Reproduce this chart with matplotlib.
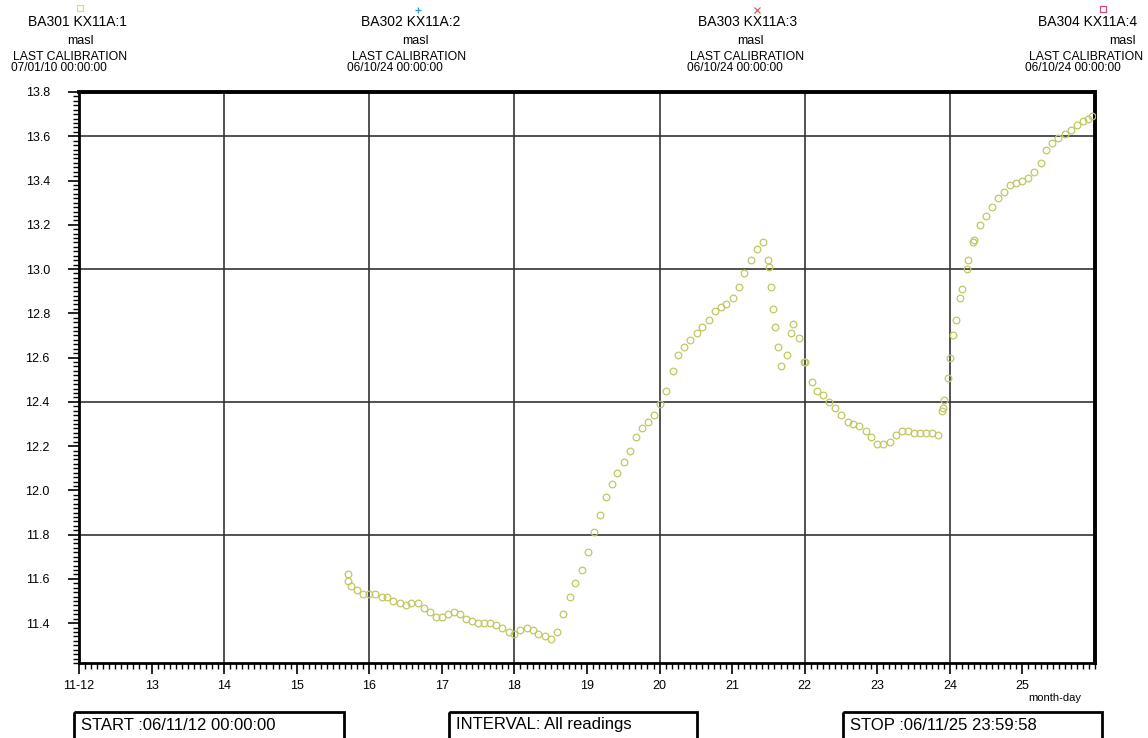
# water level plot, BA301 KX11A:1, readings 06/11/12 - 06/11/25

import numpy as np
import matplotlib
matplotlib.use("Agg")
import matplotlib.pyplot as plt
from matplotlib.ticker import MultipleLocator, FixedLocator
from matplotlib.patches import Rectangle

plt.rcParams['font.family'] = ['Liberation Sans', 'DejaVu Sans']

# day of month (November 2006) and level (masl)
days = [15.70, 15.71, 15.75, 15.83, 15.92, 16.00, 16.08, 16.17, 16.25, 16.33,
        16.42, 16.50, 16.58, 16.67, 16.75, 16.84, 16.92, 17.00, 17.08, 17.17,
        17.25, 17.33, 17.42, 17.50, 17.58, 17.67, 17.75, 17.83, 17.92, 18.00,
        18.08, 18.17, 18.25, 18.33, 18.42, 18.50, 18.58, 18.67, 18.76, 18.83,
        18.93, 19.01, 19.10, 19.18, 19.26, 19.34, 19.42, 19.51, 19.59, 19.68,
        19.76, 19.84, 19.92, 20.00, 20.09, 20.18, 20.26, 20.34, 20.42, 20.51,
        20.59, 20.68, 20.76, 20.84, 20.92, 21.01, 21.09, 21.17, 21.26, 21.34,
        21.43, 21.50, 21.51, 21.53, 21.56, 21.59, 21.63, 21.67, 21.75, 21.81,
        21.84, 21.92, 21.99, 22.00, 22.10, 22.17, 22.25, 22.34, 22.42, 22.50,
        22.59, 22.67, 22.75, 22.84, 22.92, 23.00, 23.08, 23.18, 23.26, 23.34,
        23.42, 23.51, 23.59, 23.67, 23.75, 23.84, 23.89, 23.90, 23.92, 23.97,
        24.00, 24.04, 24.08, 24.14, 24.17, 24.23, 24.25, 24.32, 24.33, 24.42,
        24.50, 24.58, 24.66, 24.75, 24.83, 24.91, 24.99, 25.08, 25.16, 25.25,
        25.33, 25.41, 25.49, 25.58, 25.67, 25.75, 25.83, 25.91, 25.96]
level = [11.62, 11.59, 11.57, 11.55, 11.53, 11.53, 11.53, 11.52, 11.52, 11.50,
         11.49, 11.48, 11.49, 11.49, 11.47, 11.45, 11.43, 11.43, 11.44, 11.45,
         11.44, 11.42, 11.41, 11.40, 11.40, 11.40, 11.39, 11.38, 11.36, 11.35,
         11.37, 11.38, 11.37, 11.35, 11.34, 11.33, 11.36, 11.44, 11.52, 11.58,
         11.64, 11.72, 11.81, 11.89, 11.97, 12.03, 12.08, 12.13, 12.18, 12.24,
         12.28, 12.31, 12.34, 12.39, 12.45, 12.54, 12.61, 12.65, 12.68, 12.71,
         12.74, 12.77, 12.81, 12.83, 12.84, 12.87, 12.92, 12.98, 13.04, 13.09,
         13.12, 13.04, 13.01, 12.92, 12.82, 12.74, 12.65, 12.56, 12.61, 12.71,
         12.75, 12.69, 12.58, 12.58, 12.49, 12.45, 12.43, 12.40, 12.37, 12.34,
         12.31, 12.30, 12.29, 12.27, 12.24, 12.21, 12.21, 12.22, 12.25, 12.27,
         12.27, 12.26, 12.26, 12.26, 12.26, 12.25, 12.36, 12.37, 12.41, 12.51,
         12.60, 12.70, 12.77, 12.87, 12.91, 13.00, 13.04, 13.12, 13.13, 13.20,
         13.24, 13.28, 13.32, 13.35, 13.38, 13.39, 13.40, 13.41, 13.44, 13.48,
         13.54, 13.57, 13.59, 13.61, 13.63, 13.65, 13.67, 13.68, 13.69]

x_ticks = list(range(12, 26))
x_labels = ['11-12'] + [str(d) for d in range(13, 26)]
y_ticks = [11.4, 11.6, 11.8, 12.0, 12.2, 12.4, 12.6, 12.8, 13.0, 13.2, 13.4, 13.6, 13.8]
x_grid = [14, 16, 18, 20, 22, 24]
y_grid = [11.8, 12.4, 13.0, 13.6]

W, H = 1148, 738
fig = plt.figure(figsize=(W / 100, H / 100), dpi=100)
L, R, T, B = 79, 1095, 92, 663
ax = fig.add_axes([L / W, 1 - B / H, (R - L) / W, (B - T) / H])

for g in x_grid:
    ax.axvline(g, color='#333333', lw=1.2, zorder=1)
for g in y_grid:
    ax.axhline(g, color='#333333', lw=1.2, zorder=1)

ax.plot(days, level, 'o', ms=4.8, mfc='none', mec='#c2c760', mew=0.9, zorder=3)

ax.set_xlim(12, 26)
ax.set_ylim(11.22, 13.8)
ax.set_xticks(x_ticks)
ax.set_xticklabels(x_labels)
ax.xaxis.set_minor_locator(MultipleLocator(1 / 12))
ax.set_yticks(y_ticks)
ax.set_yticklabels(['%.1f' % v for v in y_ticks])
ax.yaxis.set_minor_locator(MultipleLocator(0.02))
ax.tick_params(which='major', direction='out', length=8, width=1.2,
               labelsize=9, color='black')
ax.tick_params(which='minor', direction='out', length=4, width=1.0)
ax.tick_params(axis='y', which='major', pad=13)
ax.tick_params(axis='x', which='major', pad=4)
for s in ['top', 'right']:
    ax.spines[s].set_linewidth(2.8)
for s in ['left', 'bottom']:
    ax.spines[s].set_linewidth(2.0)

# header / footer in pixel coordinates
ov = fig.add_axes([0, 0, 1, 1], facecolor='none')
ov.set_xlim(0, W)
ov.set_ylim(H, 0)
ov.axis('off')

heads = [
    ("BA301 KX11A:1", "07/01/10 00:00:00", 77, 80, 70, 11, (80, 8), 's', '#d6da8c'),
    ("BA302 KX11A:2", "06/10/24 00:00:00", 411, 415, 409, 347, (418, 10), '+', '#2a9fc0'),
    ("BA303 KX11A:3", "06/10/24 00:00:00", 748, 750, 747, 687, (757, 10), 'x', '#e05a5a'),
    ("BA304 KX11A:4", "06/10/24 00:00:00", 1088, 1122, 1086, 1025, (1103, 9), 's', '#d04a88'),
]
for name, cal, xn, xm, xc, xd, mpos, mk, mc in heads:
    ov.plot([mpos[0]], [mpos[1]], mk, ms=4.5, mfc='none', mec=mc, mew=0.9)
    ov.text(xn, 22, name, ha='center', va='center', fontsize=10)
    ov.text(xm, 41, "masl", ha='center', va='center', fontsize=9)
    ov.text(xc, 57, "LAST CALIBRATION", ha='center', va='center', fontsize=8.8)
    ov.text(xd, 68, cal, ha='left', va='center', fontsize=8.6)

ov.text(1028, 698, "month-day", ha='left', va='center', fontsize=8)

boxes = [(74, 270, "START :06/11/12 00:00:00"),
         (449, 248, "INTERVAL: All readings"),
         (843, 259, "STOP :06/11/25 23:59:58")]
for bx, bw, txt in boxes:
    ov.add_patch(Rectangle((bx, 712), bw, 40, fill=False, ec='black', lw=2.0,
                           clip_on=False))
    ov.text(bx + 7, 725, txt, ha='left', va='center', fontsize=12)

fig.savefig("out.png", dpi=100)
